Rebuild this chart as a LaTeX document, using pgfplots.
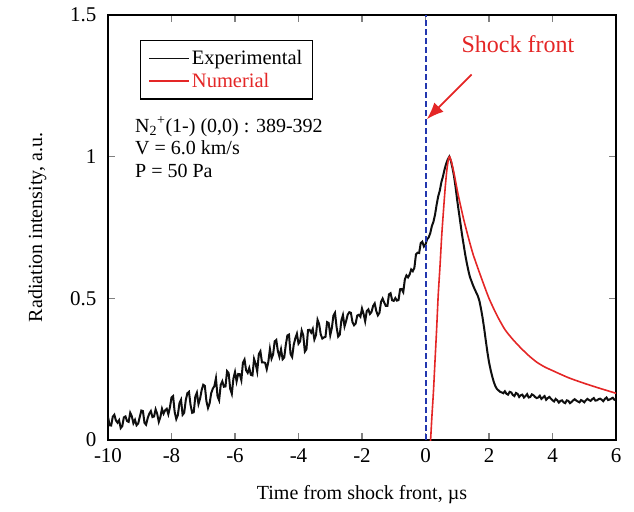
\documentclass[border=0pt]{standalone}
\usepackage{fontspec}
\setmainfont{Liberation Serif}
\usepackage{pgfplots}
\pgfplotsset{compat=1.18}
\usetikzlibrary{arrows.meta,calc}
\definecolor{expblack}{RGB}{15,15,15}
\definecolor{numred}{RGB}{228,38,38}
\definecolor{shockblue}{RGB}{35,55,175}
\begin{document}
\begin{tikzpicture}
\begin{axis}[
  name=ax,
  scale only axis,
  width=508pt, height=425pt,
  xmin=-10, xmax=6, ymin=0, ymax=1.5,
  xtick={-10,-8,-6,-4,-2,0,2,4,6},
  ytick={0,0.5,1,1.5},
  yticklabels={0,0.5,1,1.5},
  /pgf/number format/assume math mode=true,
  tick label style={font=\fontsize{21}{24}\selectfont},
  label style={font=\fontsize{20}{24}\selectfont},
  axis line style={line width=1.6pt},
  major tick style={line width=1.2pt},
  major tick length=7pt,
  tick align=inside,
  xlabel={Time from shock front, µs},
  ylabel={Radiation intensity, a.u.},
  xlabel style={yshift=-16pt},
  ylabel style={yshift=17pt},
  yticklabel style={xshift=-8pt},
  xticklabel style={yshift=-5pt},
  legend cell align=left,
  legend style={at={(axis cs:-9.0,1.412)}, anchor=north west,
    draw=black, line width=1.2pt, font=\fontsize{20.5}{22}\selectfont,
    inner xsep=8pt, inner ysep=8pt, row sep=3pt},
  legend image code/.code={\draw[#1, line width=1.6pt] (0pt,0pt) -- (40pt,0pt);},
  clip=true,
]
\addplot[expblack, line width=2pt] coordinates {
(-10.0,0.082)(-9.95,0.052)(-9.9,0.051)(-9.85,0.082)(-9.8,0.089)(-9.75,0.069)(-9.7,0.061)(-9.65,0.070)(-9.6,0.042)(-9.55,0.049)
(-9.5,0.080)(-9.45,0.083)(-9.4,0.067)(-9.35,0.064)(-9.3,0.096)(-9.25,0.084)(-9.2,0.059)(-9.15,0.071)(-9.1,0.052)(-9.05,0.058)
(-9.0,0.081)(-8.95,0.104)(-8.9,0.102)(-8.85,0.060)(-8.8,0.054)(-8.75,0.077)(-8.7,0.093)(-8.65,0.102)(-8.6,0.081)(-8.55,0.083)
(-8.5,0.108)(-8.45,0.092)(-8.4,0.064)(-8.35,0.081)(-8.3,0.110)(-8.25,0.093)(-8.2,0.105)(-8.15,0.110)(-8.1,0.091)(-8.05,0.115)
(-8.0,0.150)(-7.95,0.155)(-7.9,0.099)(-7.85,0.074)(-7.8,0.088)(-7.75,0.130)(-7.7,0.142)(-7.65,0.089)(-7.6,0.096)(-7.55,0.141)
(-7.5,0.165)(-7.45,0.170)(-7.4,0.124)(-7.35,0.096)(-7.3,0.098)(-7.25,0.153)(-7.2,0.167)(-7.15,0.127)(-7.1,0.146)(-7.05,0.176)
(-7.0,0.195)(-6.95,0.191)(-6.9,0.137)(-6.85,0.113)(-6.8,0.129)(-6.75,0.165)(-6.7,0.181)(-6.65,0.190)(-6.6,0.218)(-6.55,0.154)
(-6.5,0.140)(-6.45,0.194)(-6.4,0.207)(-6.35,0.188)(-6.3,0.189)(-6.25,0.243)(-6.2,0.236)(-6.15,0.180)(-6.1,0.163)(-6.05,0.217)
(-6.0,0.240)(-5.95,0.207)(-5.9,0.233)(-5.85,0.232)(-5.8,0.211)(-5.75,0.273)(-5.7,0.284)(-5.65,0.246)(-5.6,0.237)(-5.55,0.254)
(-5.5,0.230)(-5.45,0.228)(-5.4,0.286)(-5.35,0.269)(-5.3,0.242)(-5.25,0.303)(-5.2,0.313)(-5.15,0.274)(-5.1,0.274)(-5.05,0.272)
(-5.0,0.250)(-4.95,0.276)(-4.9,0.321)(-4.85,0.287)(-4.8,0.302)(-4.75,0.348)(-4.7,0.353)(-4.65,0.314)(-4.6,0.294)(-4.55,0.320)
(-4.5,0.285)(-4.45,0.291)(-4.4,0.336)(-4.35,0.369)(-4.3,0.372)(-4.25,0.303)(-4.2,0.293)(-4.15,0.336)(-4.1,0.359)(-4.05,0.375)
(-4.0,0.340)(-3.95,0.348)(-3.9,0.386)(-3.85,0.369)(-3.8,0.312)(-3.75,0.320)(-3.7,0.388)(-3.65,0.389)(-3.6,0.379)(-3.55,0.392)
(-3.5,0.355)(-3.45,0.370)(-3.4,0.424)(-3.35,0.409)(-3.3,0.373)(-3.25,0.358)(-3.2,0.362)(-3.15,0.364)(-3.1,0.416)(-3.05,0.413)
(-3.0,0.370)(-2.95,0.395)(-2.9,0.439)(-2.85,0.449)(-2.8,0.398)(-2.75,0.365)(-2.7,0.372)(-2.65,0.422)(-2.6,0.441)(-2.55,0.401)
(-2.5,0.420)(-2.45,0.442)(-2.4,0.451)(-2.35,0.449)(-2.3,0.416)(-2.25,0.405)(-2.2,0.411)(-2.15,0.439)(-2.1,0.442)(-2.05,0.435)
(-2.0,0.464)(-1.95,0.445)(-1.9,0.419)(-1.85,0.455)(-1.8,0.461)(-1.75,0.445)(-1.7,0.452)(-1.65,0.473)(-1.6,0.482)(-1.55,0.455)
(-1.5,0.440)(-1.45,0.449)(-1.4,0.488)(-1.35,0.499)(-1.3,0.485)(-1.25,0.473)(-1.2,0.473)(-1.15,0.514)(-1.1,0.518)(-1.05,0.493)
(-1.0,0.491)(-0.95,0.501)(-0.9,0.492)(-0.85,0.494)(-0.8,0.532)(-0.75,0.533)(-0.7,0.522)(-0.65,0.567)(-0.6,0.581)(-0.55,0.574)
(-0.5,0.584)(-0.45,0.602)(-0.4,0.596)(-0.35,0.608)(-0.3,0.655)(-0.25,0.661)(-0.2,0.660)(-0.15,0.695)(-0.1,0.700)(-0.05,0.683)
(0.0,0.690)(0.05,0.708)(0.1,0.715)(0.15,0.730)(0.2,0.755)(0.25,0.770)(0.3,0.795)(0.35,0.830)(0.4,0.860)(0.45,0.880)
(0.5,0.910)(0.55,0.930)(0.6,0.955)(0.65,0.975)(0.7,0.990)(0.75,1.000)(0.8,0.985)(0.85,0.960)
(0.9,0.930)(0.95,0.890)(1.0,0.845)(1.05,0.805)(1.1,0.765)(1.15,0.725)(1.2,0.690)(1.25,0.655)(1.3,0.625)(1.35,0.598)
(1.4,0.575)(1.45,0.560)(1.5,0.545)(1.55,0.532)(1.6,0.520)(1.65,0.508)(1.7,0.490)(1.75,0.462)(1.8,0.430)(1.85,0.392)
(1.9,0.350)(1.95,0.310)(2.0,0.275)(2.05,0.248)(2.1,0.225)(2.15,0.205)(2.2,0.190)(2.25,0.180)(2.3,0.175)(2.35,0.170)
(2.4,0.168)(2.45,0.165)(2.5,0.172)(2.55,0.163)(2.6,0.160)(2.65,0.170)(2.7,0.168)(2.75,0.159)(2.8,0.155)(2.85,0.166)
(2.9,0.163)(2.95,0.152)(3.0,0.158)(3.05,0.160)(3.1,0.150)(3.15,0.155)(3.2,0.162)(3.25,0.150)(3.3,0.152)(3.35,0.161)
(3.4,0.158)(3.45,0.152)(3.5,0.148)(3.55,0.150)(3.6,0.156)(3.65,0.145)(3.7,0.150)(3.75,0.155)(3.8,0.142)(3.85,0.148)
(3.9,0.152)(3.95,0.146)(4.0,0.140)(4.05,0.136)(4.1,0.145)(4.15,0.140)(4.2,0.132)(4.25,0.138)(4.3,0.140)(4.35,0.133)
(4.4,0.130)(4.45,0.140)(4.5,0.138)(4.55,0.130)(4.6,0.134)(4.65,0.140)(4.7,0.144)(4.75,0.139)(4.8,0.136)(4.85,0.133)
(4.9,0.141)(4.95,0.138)(5.0,0.133)(5.05,0.140)(5.1,0.145)(5.15,0.141)(5.2,0.138)(5.25,0.144)(5.3,0.148)(5.35,0.139)
(5.4,0.140)(5.45,0.144)(5.5,0.146)(5.55,0.142)(5.6,0.137)(5.65,0.145)(5.7,0.150)(5.75,0.141)(5.8,0.143)(5.85,0.146)
(5.9,0.149)(5.95,0.142)(6.0,0.145)
};
\addlegendentry{Experimental}
\addplot[numred, line width=1.6pt, smooth, tension=0.4] coordinates {
(0.12,-0.05)(0.16,0.0)(0.2,0.08)(0.25,0.17)(0.3,0.28)(0.35,0.39)(0.4,0.51)(0.46,0.62)(0.51,0.72)(0.56,0.80)
(0.62,0.89)(0.67,0.95)(0.72,0.99)(0.76,1.0)(0.82,0.98)(0.9,0.94)(1.03,0.865)(1.2,0.78)(1.35,0.715)(1.5,0.655)
(1.75,0.575)(2.0,0.50)(2.25,0.44)(2.5,0.39)(2.75,0.355)(3.0,0.325)(3.25,0.298)(3.5,0.275)(3.75,0.258)(4.0,0.245)
(4.5,0.22)(5.0,0.20)(5.5,0.182)(6.0,0.165)
};
\addlegendentry{\textcolor{numred}{Numerial}}
\addplot[shockblue, line width=2pt, dash pattern=on 6pt off 3pt, forget plot] coordinates {(0,0) (0,1.5)};
\draw[numred, line width=1.8pt, -{Latex[length=17pt,width=13pt]}] (axis cs:1.45,1.29) -- (axis cs:0.04,1.132);
\node[numred, font=\fontsize{24}{28}\selectfont] at (axis cs:2.91,1.398) {Shock front};
\node[anchor=base west, font=\fontsize{20}{24}\selectfont, inner sep=0pt] at (axis cs:-9.15,1.087) {N\textsubscript{2}\textsuperscript{+}(1-) (0,0) : 389-392};
\node[anchor=base west, font=\fontsize{20}{24}\selectfont, inner sep=0pt] at (axis cs:-9.15,1.006) {V = 6.0 km/s};
\node[anchor=base west, font=\fontsize{20}{24}\selectfont, inner sep=0pt] at (axis cs:-9.15,0.925) {P = 50 Pa};
\end{axis}
\pgfresetboundingbox
\path[use as bounding box] ($(ax.south west)+(-108pt,-71pt)$) rectangle ($(ax.north east)+(18pt,15pt)$);
\end{tikzpicture}
\end{document}
